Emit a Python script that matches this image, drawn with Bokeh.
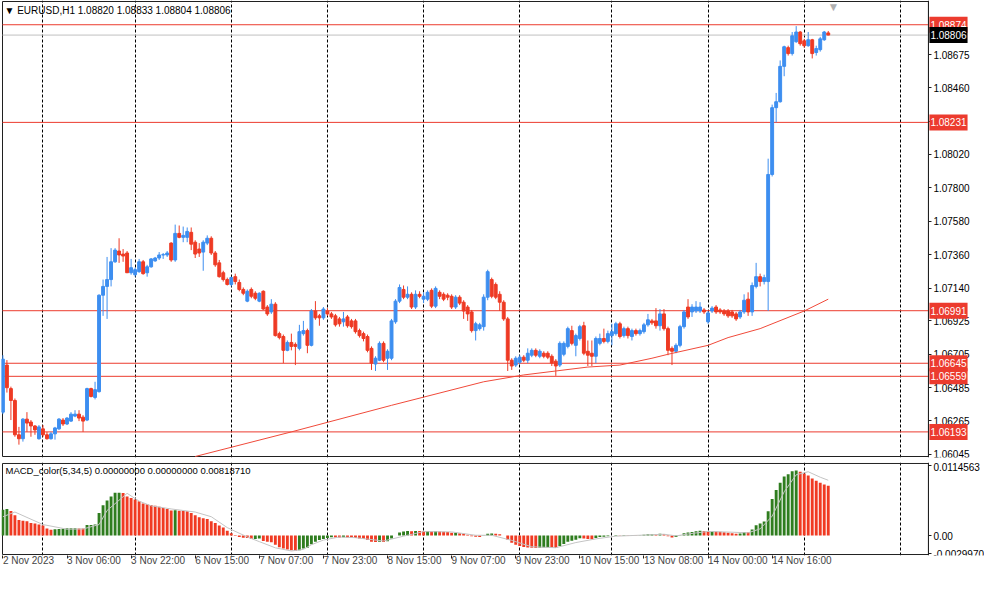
from bokeh.plotting import figure
from bokeh.layouts import column
from bokeh.models import Range1d, FixedTicker, Grid, Label, ColumnDataSource
from bokeh.embed import file_html
from bokeh.resources import INLINE

# ---------------- data (EURUSD H1, bar index 0 = 2 Nov 2023 14:00) ----------------
opens = [1.06323, 1.06633, 1.06478, 1.06400, 1.06174, 1.06148, 1.06277, 1.06258, 1.06232, 1.06148,
         1.06213, 1.06174, 1.06148, 1.06180, 1.06213, 1.06271, 1.06245, 1.06264, 1.06297, 1.06310,
         1.06290, 1.06271, 1.06478, 1.06420, 1.06458, 1.07093, 1.07151, 1.07196, 1.07313, 1.07384,
         1.07364, 1.07371, 1.07241, 1.07228, 1.07248, 1.07313, 1.07241, 1.07280, 1.07319, 1.07338,
         1.07358, 1.07358, 1.07436, 1.07325, 1.07500, 1.07474, 1.07474, 1.07507, 1.07442, 1.07397,
         1.07377, 1.07436, 1.07468, 1.07371, 1.07306, 1.07241, 1.07196, 1.07164, 1.07215, 1.07177,
         1.07131, 1.07054, 1.07131, 1.07106, 1.07054, 1.07119, 1.07015, 1.06983, 1.07034, 1.06840,
         1.06821, 1.06730, 1.06782, 1.06769, 1.06743, 1.06840, 1.06860, 1.06763, 1.06989, 1.06957,
         1.06944, 1.06989, 1.06970, 1.06957, 1.06937, 1.06918, 1.06950, 1.06924, 1.06924, 1.06860,
         1.06840, 1.06821, 1.06743, 1.06640, 1.06665, 1.06776, 1.06678, 1.06678, 1.06918, 1.07054,
         1.07131, 1.07080, 1.07099, 1.07015, 1.07099, 1.07067, 1.07067, 1.07125, 1.07021, 1.07112,
         1.07099, 1.07093, 1.07086, 1.07015, 1.07080, 1.07047, 1.07015, 1.06983, 1.06860, 1.06873,
         1.06886, 1.07080, 1.07196, 1.07164, 1.07099, 1.07047, 1.06937, 1.06665, 1.06633, 1.06652,
         1.06685, 1.06665, 1.06698, 1.06730, 1.06691, 1.06711, 1.06711, 1.06691, 1.06659, 1.06633,
         1.06704, 1.06756, 1.06860, 1.06763, 1.06808, 1.06892, 1.06724, 1.06711, 1.06691, 1.06776,
         1.06808, 1.06789, 1.06827, 1.06840, 1.06905, 1.06827, 1.06873, 1.06821, 1.06860, 1.06840,
         1.06853, 1.06898, 1.06924, 1.06924, 1.06892, 1.06970, 1.06873, 1.06743, 1.06724, 1.06763,
         1.06886, 1.07015, 1.06983, 1.06989, 1.06989, 1.06996, 1.06918, 1.06989, 1.07015, 1.06996,
         1.06989, 1.06989, 1.06983, 1.06970, 1.06950, 1.06983, 1.07067, 1.06983, 1.07151, 1.07215,
         1.07183, 1.07183, 1.07888, 1.08328, 1.08367, 1.08600, 1.08723, 1.08684, 1.08762, 1.08826,
         1.08768, 1.08736, 1.08775, 1.08691, 1.08710, 1.08775, 1.08820]
highs = [1.06698, 1.06666, 1.06491, 1.06413, 1.06226, 1.06284, 1.06323, 1.06271, 1.06238, 1.06238,
         1.06238, 1.06193, 1.06193, 1.06226, 1.06284, 1.06284, 1.06290, 1.06323, 1.06336, 1.06336,
         1.06303, 1.06484, 1.06484, 1.06523, 1.07099, 1.07196, 1.07345, 1.07403, 1.07403, 1.07468,
         1.07397, 1.07384, 1.07332, 1.07274, 1.07332, 1.07325, 1.07293, 1.07338, 1.07345, 1.07377,
         1.07371, 1.07384, 1.07442, 1.07558, 1.07552, 1.07545, 1.07539, 1.07539, 1.07455, 1.07436,
         1.07455, 1.07487, 1.07481, 1.07384, 1.07325, 1.07254, 1.07209, 1.07215, 1.07235, 1.07196,
         1.07144, 1.07131, 1.07144, 1.07119, 1.07112, 1.07125, 1.07028, 1.07067, 1.07047, 1.06853,
         1.06834, 1.06795, 1.06840, 1.06782, 1.06898, 1.06924, 1.06873, 1.07002, 1.07054, 1.06970,
         1.07015, 1.07008, 1.06983, 1.06970, 1.06950, 1.06983, 1.06963, 1.06937, 1.06937, 1.06873,
         1.06853, 1.06834, 1.06756, 1.06691, 1.06789, 1.06789, 1.06737, 1.06937, 1.07067, 1.07164,
         1.07157, 1.07151, 1.07112, 1.07125, 1.07119, 1.07112, 1.07125, 1.07138, 1.07151, 1.07125,
         1.07112, 1.07106, 1.07099, 1.07093, 1.07093, 1.07060, 1.07028, 1.06996, 1.06918, 1.06911,
         1.07099, 1.07261, 1.07209, 1.07177, 1.07119, 1.07060, 1.06950, 1.06678, 1.06691, 1.06698,
         1.06698, 1.06743, 1.06743, 1.06743, 1.06737, 1.06724, 1.06724, 1.06704, 1.06672, 1.06789,
         1.06789, 1.06886, 1.06892, 1.06840, 1.06898, 1.06918, 1.06795, 1.06795, 1.06821, 1.06840,
         1.06873, 1.06860, 1.06905, 1.06918, 1.06918, 1.06886, 1.06886, 1.06873, 1.06873, 1.06873,
         1.06911, 1.06970, 1.06937, 1.07008, 1.07002, 1.07002, 1.06886, 1.06756, 1.06776, 1.06898,
         1.06996, 1.07067, 1.07034, 1.07054, 1.07047, 1.07008, 1.06989, 1.07021, 1.07028, 1.07008,
         1.07002, 1.07002, 1.06996, 1.06983, 1.06996, 1.07099, 1.07112, 1.07177, 1.07306, 1.07235,
         1.07228, 1.07992, 1.08348, 1.08425, 1.08639, 1.08736, 1.08736, 1.08826, 1.08865, 1.08833,
         1.08781, 1.08826, 1.08781, 1.08736, 1.08794, 1.08833, 1.08833]
lows = [1.06310, 1.06452, 1.06271, 1.06161, 1.06109, 1.06129, 1.06193, 1.06161, 1.06174, 1.06142,
        1.06161, 1.06142, 1.06142, 1.06142, 1.06206, 1.06232, 1.06238, 1.06258, 1.06290, 1.06264,
        1.06193, 1.06264, 1.06420, 1.06407, 1.06452, 1.06957, 1.06937, 1.07151, 1.07306, 1.07306,
        1.07313, 1.07241, 1.07228, 1.07215, 1.07241, 1.07228, 1.07215, 1.07274, 1.07313, 1.07325,
        1.07332, 1.07345, 1.07313, 1.07313, 1.07468, 1.07442, 1.07442, 1.07390, 1.07338, 1.07345,
        1.07254, 1.07423, 1.07358, 1.07280, 1.07209, 1.07183, 1.07157, 1.07151, 1.07164, 1.07119,
        1.07093, 1.07047, 1.07073, 1.07060, 1.07047, 1.06996, 1.06957, 1.06970, 1.06821, 1.06802,
        1.06646, 1.06724, 1.06730, 1.06633, 1.06730, 1.06827, 1.06711, 1.06756, 1.06931, 1.06892,
        1.06931, 1.06957, 1.06937, 1.06886, 1.06886, 1.06886, 1.06879, 1.06873, 1.06840, 1.06814,
        1.06789, 1.06717, 1.06601, 1.06594, 1.06659, 1.06652, 1.06601, 1.06665, 1.06905, 1.07041,
        1.07067, 1.07067, 1.07002, 1.07002, 1.07073, 1.07041, 1.07054, 1.07008, 1.07008, 1.07067,
        1.07054, 1.07060, 1.07002, 1.07002, 1.07028, 1.06937, 1.06924, 1.06847, 1.06795, 1.06860,
        1.06860, 1.07060, 1.07073, 1.07067, 1.06989, 1.06924, 1.06594, 1.06601, 1.06620, 1.06640,
        1.06652, 1.06646, 1.06685, 1.06685, 1.06678, 1.06678, 1.06672, 1.06627, 1.06562, 1.06620,
        1.06691, 1.06743, 1.06763, 1.06691, 1.06795, 1.06698, 1.06627, 1.06627, 1.06646, 1.06763,
        1.06776, 1.06776, 1.06763, 1.06827, 1.06808, 1.06814, 1.06808, 1.06795, 1.06827, 1.06827,
        1.06840, 1.06886, 1.06898, 1.06873, 1.06860, 1.06860, 1.06698, 1.06633, 1.06711, 1.06750,
        1.06873, 1.06937, 1.06950, 1.06976, 1.06976, 1.06970, 1.06905, 1.06976, 1.06970, 1.06970,
        1.06957, 1.06944, 1.06944, 1.06924, 1.06937, 1.06970, 1.06957, 1.06957, 1.07138, 1.07151,
        1.07164, 1.06989, 1.07875, 1.08231, 1.08361, 1.08535, 1.08671, 1.08671, 1.08755, 1.08736,
        1.08723, 1.08729, 1.08652, 1.08671, 1.08697, 1.08768, 1.08804]
closes = [1.06672, 1.06484, 1.06400, 1.06174, 1.06148, 1.06277, 1.06251, 1.06232, 1.06206, 1.06226,
          1.06174, 1.06148, 1.06180, 1.06219, 1.06277, 1.06245, 1.06284, 1.06310, 1.06310, 1.06284,
          1.06264, 1.06478, 1.06426, 1.06471, 1.07093, 1.07151, 1.07196, 1.07313, 1.07390, 1.07358,
          1.07351, 1.07241, 1.07274, 1.07261, 1.07313, 1.07235, 1.07280, 1.07332, 1.07338, 1.07358,
          1.07360, 1.07371, 1.07325, 1.07500, 1.07474, 1.07487, 1.07513, 1.07429, 1.07364, 1.07371,
          1.07442, 1.07468, 1.07371, 1.07293, 1.07215, 1.07196, 1.07164, 1.07209, 1.07183, 1.07131,
          1.07106, 1.07119, 1.07086, 1.07073, 1.07106, 1.07002, 1.06970, 1.07034, 1.06827, 1.06814,
          1.06730, 1.06782, 1.06756, 1.06756, 1.06853, 1.06860, 1.06763, 1.06989, 1.06944, 1.06944,
          1.07002, 1.06970, 1.06950, 1.06898, 1.06905, 1.06937, 1.06892, 1.06886, 1.06853, 1.06827,
          1.06808, 1.06730, 1.06646, 1.06678, 1.06776, 1.06665, 1.06724, 1.06924, 1.07054, 1.07144,
          1.07080, 1.07099, 1.07015, 1.07099, 1.07086, 1.07086, 1.07112, 1.07021, 1.07138, 1.07086,
          1.07067, 1.07080, 1.07015, 1.07080, 1.07041, 1.06989, 1.06970, 1.06860, 1.06905, 1.06898,
          1.07080, 1.07248, 1.07086, 1.07080, 1.07047, 1.06937, 1.06665, 1.06627, 1.06678, 1.06685,
          1.06665, 1.06711, 1.06730, 1.06698, 1.06724, 1.06691, 1.06685, 1.06646, 1.06627, 1.06776,
          1.06776, 1.06873, 1.06776, 1.06827, 1.06886, 1.06711, 1.06698, 1.06691, 1.06808, 1.06808,
          1.06789, 1.06840, 1.06853, 1.06905, 1.06821, 1.06873, 1.06827, 1.06860, 1.06840, 1.06860,
          1.06898, 1.06931, 1.06911, 1.06892, 1.06970, 1.06873, 1.06730, 1.06724, 1.06763, 1.06886,
          1.06983, 1.06950, 1.07015, 1.07015, 1.07015, 1.06983, 1.06976, 1.07008, 1.06983, 1.06983,
          1.06970, 1.06957, 1.06957, 1.06937, 1.06983, 1.07060, 1.06983, 1.07157, 1.07215, 1.07183,
          1.07209, 1.07888, 1.08328, 1.08367, 1.08600, 1.08729, 1.08684, 1.08801, 1.08826, 1.08749,
          1.08736, 1.08775, 1.08684, 1.08717, 1.08781, 1.08826, 1.08806]

# moving average (read at a few bars)
ma_bars = [48, 72, 97, 120, 130, 138, 146, 154, 162, 166, 176, 181, 189, 200, 206]
ma_values = [1.06031, 1.06193, 1.06368, 1.06523, 1.06568, 1.06594, 1.06620, 1.06633, 1.06678,
             1.06704, 1.06763, 1.06814, 1.06873, 1.06989, 1.07067]

# horizontal levels
level_prices = [1.08874, 1.08231, 1.06991, 1.06645, 1.06559, 1.06193]
bid_price = 1.08806

# MACD_color(5,34,5) histogram
macd = [0.00423, 0.00438, 0.00403, 0.00335, 0.00258, 0.00243, 0.00234, 0.00207, 0.00197, 0.00181,
        0.00166, 0.00115, 0.00095, 0.00105, 0.00106, 0.00111, 0.00120, 0.00121, 0.00122, 0.00118,
        0.00115, 0.00172, 0.00174, 0.00181, 0.00372, 0.00500, 0.00576, 0.00642, 0.00704, 0.00706,
        0.00700, 0.00642, 0.00618, 0.00592, 0.00566, 0.00526, 0.00515, 0.00504, 0.00489, 0.00473,
        0.00453, 0.00438, 0.00412, 0.00415, 0.00410, 0.00405, 0.00400, 0.00372, 0.00335, 0.00300,
        0.00284, 0.00274, 0.00234, 0.00207, 0.00166, 0.00131, 0.00080, 0.00040, 0.00010, -0.00023,
        -0.00038, -0.00040, -0.00058, -0.00055, -0.00050, -0.00089, -0.00100, -0.00110, -0.00151, -0.00192,
        -0.00212, -0.00228, -0.00243, -0.00254, -0.00243, -0.00212, -0.00202, -0.00141, -0.00100, -0.00074,
        -0.00058, -0.00040, -0.00028, -0.00030, -0.00032, -0.00028, -0.00032, -0.00036, -0.00040, -0.00048,
        -0.00058, -0.00075, -0.00100, -0.00108, -0.00100, -0.00105, -0.00095, -0.00050, 0.00000, 0.00050,
        0.00065, 0.00075, 0.00072, 0.00075, 0.00073, 0.00072, 0.00074, 0.00065, 0.00070, 0.00068,
        0.00062, 0.00058, 0.00045, 0.00046, 0.00040, 0.00028, 0.00015, -0.00010, -0.00020, -0.00025,
        -0.00005, 0.00030, 0.00035, 0.00030, 0.00020, 0.00000, -0.00070, -0.00120, -0.00150, -0.00170,
        -0.00190, -0.00195, -0.00200, -0.00205, -0.00200, -0.00198, -0.00195, -0.00200, -0.00205, -0.00170,
        -0.00140, -0.00100, -0.00085, -0.00070, -0.00045, -0.00050, -0.00055, -0.00060, -0.00040, -0.00025,
        -0.00020, -0.00010, 0.00000, 0.00010, 0.00005, 0.00008, 0.00005, 0.00006, 0.00005, 0.00006,
        0.00012, 0.00020, 0.00022, 0.00020, 0.00030, 0.00020, -0.00010, -0.00030, -0.00025, 0.00005,
        0.00040, 0.00050, 0.00060, 0.00070, 0.00078, 0.00075, 0.00070, 0.00072, 0.00068, 0.00062,
        0.00055, 0.00048, 0.00040, 0.00030, 0.00032, 0.00060, 0.00055, 0.00100, 0.00170, 0.00200,
        0.00230, 0.00400, 0.00600, 0.00750, 0.00870, 0.00970, 0.01010, 0.01060, 0.01070, 0.01050,
        0.01020, 0.00990, 0.00940, 0.00900, 0.00870, 0.00840, 0.00819]
signal_bars = [0, 3, 10, 16, 20, 24, 26, 31, 34, 37, 42, 48, 52, 56, 61, 64, 68, 72, 75, 77, 80, 84,
               88, 95, 100, 105, 112, 118, 122, 127, 132, 138, 143, 148, 153, 160, 165, 168, 172,
               176, 182, 186, 189, 192, 195, 198, 201, 204, 206]
signal = [0.00310, 0.00387, 0.00181, 0.00105, 0.00108, 0.00181, 0.00412, 0.00695, 0.00566, 0.00489,
          0.00438, 0.00387, 0.00310, 0.00131, -0.00023, -0.00100, -0.00202, -0.00254, -0.00228,
          -0.00151, -0.00074, -0.00023, -0.00035, -0.00090, -0.00010, 0.00065, 0.00060, 0.00005,
          0.00005, -0.00080, -0.00185, -0.00200, -0.00115, -0.00055, -0.00010, 0.00008, 0.00022,
          -0.00005, 0.00035, 0.00068, 0.00055, 0.00045, 0.00110, 0.00320, 0.00720, 0.01000, 0.01050,
          0.00960, 0.00910]

# axes
price_ticks = [1.08675, 1.0846, 1.0824, 1.0802, 1.078, 1.0758, 1.0736, 1.0714, 1.06925, 1.06705,
               1.06485, 1.06265, 1.06045]
price_tick_labels = ["1.08675", "1.08460", "", "1.08020", "1.07800", "1.07580", "1.07360", "1.07140",
                     "1.06925", "1.06705", "1.06485", "1.06265", "1.06045"]
macd_ticks = [0.0114563, 0.0, -0.002997]
macd_tick_labels = ["0.0114563", "0.00", "-0.0029970"]
time_bars = [0, 16, 32, 48, 64, 80, 96, 112, 128, 144, 160, 176, 192]
time_labels = ["2 Nov 2023", "3 Nov 06:00", "3 Nov 22:00", "6 Nov 15:00", "7 Nov 07:00", "7 Nov 23:00",
               "8 Nov 15:00", "9 Nov 07:00", "9 Nov 23:00", "10 Nov 15:00", "13 Nov 08:00",
               "14 Nov 00:00", "14 Nov 16:00"]
day_separator_bars = [10, 33, 57, 81, 105, 129, 152, 176, 200, 224]

# ---------------- layout / styling ----------------
FONT = "Liberation Sans"
BULL = "#3d8ef0"
BEAR = "#ee3a24"
LEVEL = "#ec3b2e"
EDGE = "#202020"
W = 984
LB = 1
X0R, X0, X1, XF = -0.35, -0.1, 231.0, 245.0     # view start, chart left, price-scale line, view end
H1, H1_BOT = 462, 5
H2, H2_BOT = 112, 17
FRAME_H1 = H1 - H1_BOT
FRAME_H2 = H2 - H2_BOT
YB1, YT1 = 1.06031, 1.09027
YB2, YT2 = -0.00312, 0.01186
pad1 = (YT1 - YB1) / (FRAME_H1 - 2)
pad2 = (YT2 - YB2) / (FRAME_H2 - 2)

bars = list(range(len(closes)))
colors = [BULL if c >= o else BEAR for o, c in zip(opens, closes)]
src = ColumnDataSource(dict(x=bars, top=[max(o, c) for o, c in zip(opens, closes)],
                            bottom=[min(o, c) for o, c in zip(opens, closes)],
                            high=highs, low=lows, color=colors))

x_range = Range1d(X0R, XF)


def style_common(fig, yb, yt):
    fig.background_fill_color = "white"
    fig.border_fill_color = "white"
    fig.outline_line_color = None
    fig.xgrid.visible = False
    fig.ygrid.visible = False
    fig.add_layout(Grid(dimension=0, ticker=FixedTicker(ticks=day_separator_bars),
                        grid_line_color="black", grid_line_dash="3 2", grid_line_width=1))
    # chart border
    fig.quad(left=[X0], right=[X1], bottom=[yb], top=[yt], fill_color=None, line_color=EDGE,
             line_width=1)
    ax = fig.yaxis
    ax.fixed_location = X1
    ax.minor_tick_line_color = None
    ax.major_tick_in = 0
    ax.major_tick_out = 3
    ax.major_label_standoff = 2
    ax.axis_line_color = EDGE
    ax.major_tick_line_color = EDGE
    ax.major_label_text_font = FONT
    ax.major_label_text_font_size = "10px"
    ax.major_label_text_color = "black"


p = figure(width=W, height=H1, x_range=x_range, y_range=Range1d(YB1 - pad1, YT1 + pad1),
           x_axis_location=None, y_axis_location="right", output_backend="svg",
           toolbar_location=None, min_border_left=LB, min_border_right=0,
           min_border_top=0, min_border_bottom=H1_BOT)
style_common(p, YB1, YT1)
p.yaxis.ticker = FixedTicker(ticks=price_ticks)
p.yaxis.major_label_overrides = {t: s for t, s in zip(price_ticks, price_tick_labels)}

n_lv = len(level_prices)
p.segment(x0=[X0] * n_lv, x1=[X1] * n_lv, y0=level_prices, y1=level_prices,
          line_color=LEVEL, line_width=1)
p.segment(x0=[X0], x1=[X1], y0=[bid_price], y1=[bid_price], line_color="#c0c0c0", line_width=1)

p.segment(x0="x", y0="high", x1="x", y1="low", line_color="color", line_width=1, source=src)
p.vbar(x="x", width=0.72, top="top", bottom="bottom", fill_color="color", line_color="color",
       line_width=1, source=src)
p.line(ma_bars, ma_values, line_color="#f04a3a", line_width=1)

tag_prices = level_prices + [bid_price]
tag_fills = [LEVEL] * n_lv + ["black"]
for lv, fc in zip(tag_prices, tag_fills):
    p.add_layout(Label(x=X1, x_offset=1, y=lv, text=f"{lv:.5f}", text_font=FONT,
                       text_font_size="10px", text_color="white", text_baseline="middle",
                       background_fill_color=fc, padding=(1, 4)))
p.add_layout(Label(x=3, y=FRAME_H1 - 10, x_units="screen", y_units="screen",
                   text="\u25bc EURUSD,H1  1.08820 1.08833 1.08804 1.08806", text_font=FONT,
                   text_font_size="10px", text_color="black", text_baseline="middle"))
p.add_layout(Label(x=207.3, y=FRAME_H1 - 6, y_units="screen", text="\u25bc", text_font=FONT,
                   text_font_size="12px", text_color="#b0b0b0", text_align="center",
                   text_baseline="middle"))

# ---------------- MACD panel ----------------
q = figure(width=W, height=H2, x_range=x_range, y_range=Range1d(YB2 - pad2, YT2 + pad2),
           y_axis_location="right", output_backend="svg", toolbar_location=None,
           min_border_left=LB, min_border_right=0, min_border_top=0, min_border_bottom=H2_BOT)
style_common(q, YB2, YT2)
q.yaxis.ticker = FixedTicker(ticks=macd_ticks)
q.yaxis.major_label_overrides = {t: s for t, s in zip(macd_ticks, macd_tick_labels)}
macd_colors = ["#2f7d1f" if i == 0 or macd[i] >= macd[i - 1] else "#f03a22" for i in range(len(macd))]
q.vbar(x=bars, top=macd, bottom=0, width=0.72, fill_color=macd_colors, line_color=None)
q.line(signal_bars, signal, line_color="#c4c4c4", line_width=1)

xa = q.xaxis
xa.ticker = FixedTicker(ticks=time_bars)
xa.major_label_overrides = {b: s for b, s in zip(time_bars, time_labels)}
xa.minor_tick_line_color = None
xa.major_tick_in = 0
xa.major_tick_out = 3
xa.major_label_standoff = 2
xa.axis_line_color = None
xa.major_tick_line_color = EDGE
xa.major_label_text_font = FONT
xa.major_label_text_font_size = "10px"
xa.major_label_orientation = -0.0001
q.add_layout(Label(x=4, y=FRAME_H2 - 10, x_units="screen", y_units="screen",
                   text="MACD_color(5,34,5) 0.00000000 0.00000000 0.00818710", text_font=FONT,
                   text_font_size="9.5px", text_color="black", text_baseline="middle"))

layout = column(p, q, spacing=0)
open("out.html", "w").write(file_html(layout, INLINE))
